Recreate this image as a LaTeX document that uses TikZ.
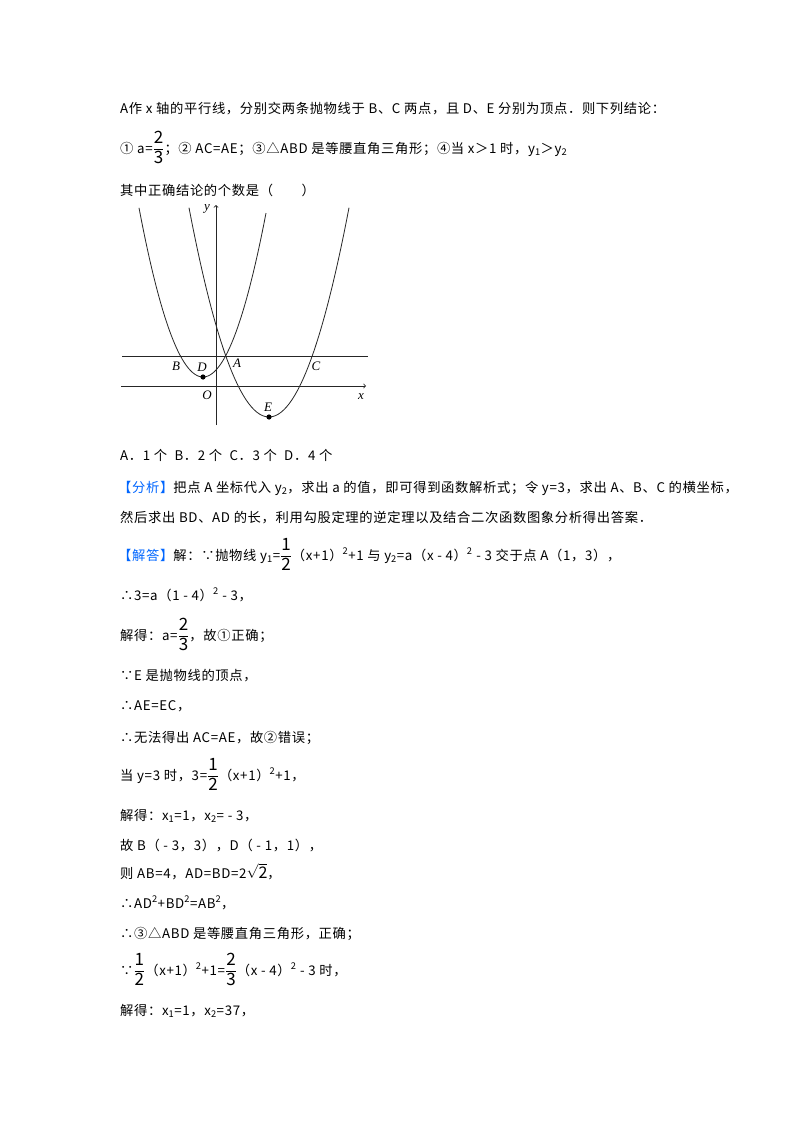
\documentclass[tikz,border=0pt]{standalone}
\usepackage{amsmath}
\usepackage{fontspec}
\setmainfont{Noto Sans CJK SC}[LetterSpace=5]
\newfontfamily\latn{Liberation Serif}
\newcommand{\fr}[2]{$\dfrac{\mbox{\fontsize{17}{17}\selectfont #1}}{\mbox{\fontsize{17}{17}\selectfont #2}}$}
\definecolor{hb}{RGB}{0,102,255}
\begin{document}
\begin{tikzpicture}[x=1pt,y=-1pt,
  tl/.style={anchor=base west,inner sep=0pt,font=\fontsize{13.3}{15}\selectfont},
  gl/.style={inner sep=0pt,font=\latn\itshape\fontsize{13}{15}\selectfont},
  curve/.style={line width=0.8pt,color=black!85}]
\useasboundingbox[fill=white] (0,0) rectangle (800,1132);
\node[tl] (l1) at (120,113) {A作 x 轴的平行线，分别交两条抛物线于 B、C 两点，且 D、E 分别为顶点．则下列结论：};
\node[tl] (l2) at (120,153) {① a=\fr{2}{3}；② AC=AE；③△ABD 是等腰直角三角形；④当 x＞1 时，y\textsubscript{1}＞y\textsubscript{2}};
\node[tl] (l3) at (120,195) {其中正确结论的个数是（　　）};
% graph
\draw[curve,->] (121,386) -- (366,386) coordinate (xe);
\draw[curve,->] (216,425) -- (216,205) coordinate (ye);
\draw[curve] (122,356) coordinate (h1) -- (368,356) coordinate (h2);
\draw[curve] plot[domain=139:266,samples=60] (\x,{377-0.0413*(\x-203)^2});
\draw[curve] plot[domain=189:349,samples=60] (\x,{417-0.0327*(\x-269)^2});
\fill (203,377) circle (2.6) coordinate (D);
\fill (269,417) circle (2.6) coordinate (E);
\node[gl] (ly) at (207,209) {y};
\node[gl] (lB) at (176,366) {B};
\node[gl] (lD) at (202,367) {D};
\node[gl] (lA) at (237,363) {A};
\node[gl] (lC) at (316,366) {C};
\node[gl] (lO) at (207,395) {O};
\node[gl] (lx) at (361,397) {x};
\node[gl] (lE) at (268,407) {E};
%
\node[tl] (l4) at (120,460) {A．1 个\ \ B．2 个\ \ C．3 个\ \ D．4 个};
\node[tl] (l5) at (118,492) {\textcolor{hb}{【分析】}把点 A 坐标代入 y\textsubscript{2}，求出 a 的值，即可得到函数解析式；令 y=3，求出 A、B、C 的横坐标，};
\node[tl] (l6) at (120,522) {然后求出 BD、AD 的长，利用勾股定理的逆定理以及结合二次函数图象分析得出答案．};
\node[tl] (l7) at (118,560) {\textcolor{hb}{【解答】}解：∵抛物线 y\textsubscript{1}=\fr{1}{2}（x+1）\textsuperscript{2}+1 与 y\textsubscript{2}=a（x - 4）\textsuperscript{2} - 3 交于点 A（1，3），};
\node[tl] (l8) at (120,600) {∴3=a（1 - 4）\textsuperscript{2} - 3，};
\node[tl] (l9) at (120,640) {解得：a=\fr{2}{3}，故①正确；};
\node[tl] (l10) at (120,680) {∵E 是抛物线的顶点，};
\node[tl] (l11) at (120,710) {∴AE=EC，};
\node[tl] (l12) at (120,742) {∴无法得出 AC=AE，故②错误；};
\node[tl] (l13) at (120,780) {当 y=3 时，3=\fr{1}{2}（x+1）\textsuperscript{2}+1，};
\node[tl] (l14) at (120,820) {解得：x\textsubscript{1}=1，x\textsubscript{2}= - 3，};
\node[tl] (l15) at (120,850) {故 B（ - 3，3），D（ - 1，1），};
\node[tl] (l16) at (120,878) {则 AB=4，AD=BD=2$\sqrt{\mbox{\fontsize{16}{16}\selectfont 2}}$，};
\node[tl] (l17) at (120,908) {∴AD\textsuperscript{2}+BD\textsuperscript{2}=AB\textsuperscript{2}，};
\node[tl] (l18) at (120,938) {∴③△ABD 是等腰直角三角形，正确；};
\node[tl] (l19) at (120,975) {∵\fr{1}{2}（x+1）\textsuperscript{2}+1=\fr{2}{3}（x - 4）\textsuperscript{2} - 3 时，};
\node[tl] (l20) at (120,1015) {解得：x\textsubscript{1}=1，x\textsubscript{2}=37，};
\end{tikzpicture}
\end{document}
